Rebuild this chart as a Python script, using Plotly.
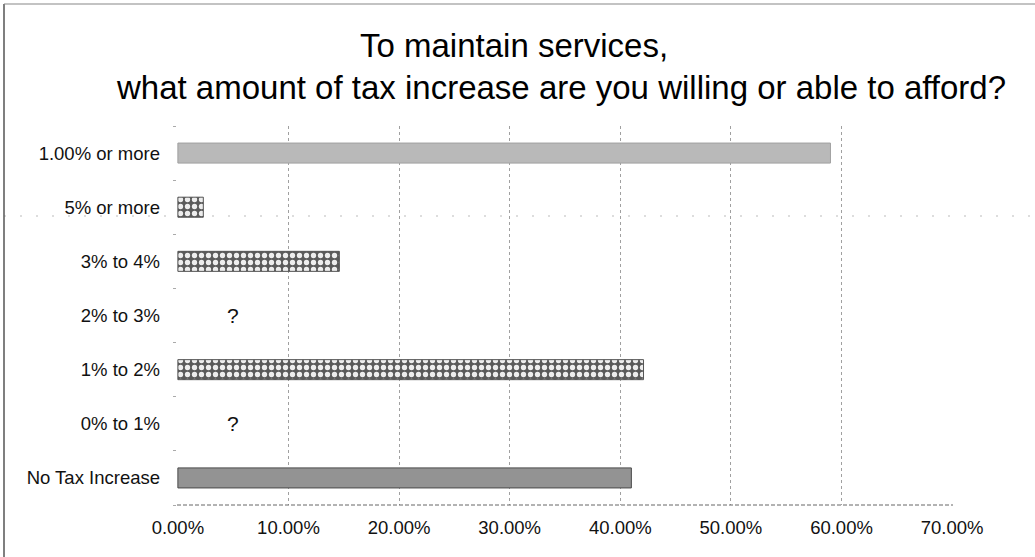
import plotly.graph_objects as go

# ---- data ----
categories = ["1.00% or more", "5% or more", "3% to 4%", "2% to 3%",
              "1% to 2%", "0% to 1%", "No Tax Increase"]
shares = [0.590, 0.023, 0.146, None, 0.421, None, 0.410]
unknown_categories = ["2% to 3%", "0% to 1%"]
unknown_label_x = 0.05
x_ticks = [0.0, 0.1, 0.2, 0.3, 0.4, 0.5, 0.6, 0.7]

title_lines = ["To maintain services,",
               "what amount of tax increase are you willing or able to afford?"]

# ---- styles ----
bar_style = ["light", "check", "check", "check", "check", "check", "dark"]
styles = {
    "light": dict(bg="#b9b9b9", fg="#b9b9b9", shape="", size=3, solid=0.3, line="#a0a0a0"),
    "check": dict(bg="#5a5a5a", fg="#ededed", shape=".", size=7, solid=0.45, line="#555555"),
    "dark":  dict(bg="#939393", fg="#939393", shape="", size=3, solid=0.3, line="#4a4a4a"),
}

W, H = 1035, 557
ML, MR, MT, MB = 177, 82, 126, 52
TITLE_Y_PX = [45, 88]
TITLE_X_PX = [514, 561]

font_family = "Liberation Sans, Arial, sans-serif"

plot_w = W - ML - MR
plot_h = H - MT - MB


def px_to_paper_y(y_px):
    return 1 + (MT - y_px) / plot_h


def px_to_paper_x(x_px):
    return (x_px - ML) / plot_w


fig = go.Figure()
for name, st in styles.items():
    ys = [c for c, s in zip(categories, bar_style) if s == name]
    xs = [v for v, s in zip(shares, bar_style) if s == name]
    fig.add_trace(go.Bar(
        y=ys, x=xs, orientation="h", width=0.37, name=name,
        marker=dict(
            color=st["bg"],
            line=dict(width=1, color=st["line"]),
            pattern=dict(shape=st["shape"], fgcolor=st["fg"], bgcolor=st["bg"],
                         size=st["size"], solidity=st["solid"], fillmode="replace"),
        ),
        hoverinfo="skip",
    ))

for c in unknown_categories:
    fig.add_annotation(x=unknown_label_x, y=c, text="?", showarrow=False,
                       font=dict(size=21, color="#111111", family=font_family))

for line, xpx, ypx in zip(title_lines, TITLE_X_PX, TITLE_Y_PX):
    fig.add_annotation(xref="paper", yref="paper", x=px_to_paper_x(xpx), y=px_to_paper_y(ypx),
                       xanchor="center", yanchor="middle", text=line, showarrow=False,
                       font=dict(size=33, color="#000000", family=font_family))

# bottom axis (dotted), frame lines (left, top), faint scan fold line
fig.add_shape(type="line", xref="paper", yref="paper", x0=0, x1=1, y0=0, y1=0,
              line=dict(color="#666666", width=1, dash="4px,2px"))
bx = px_to_paper_x(4)
by = px_to_paper_y(4)
fig.add_shape(type="line", xref="paper", yref="paper", x0=bx, x1=bx, y0=by, y1=px_to_paper_y(H),
              line=dict(color="#555555", width=1.5))
fig.add_shape(type="line", xref="paper", yref="paper", x0=bx, x1=px_to_paper_x(W), y0=by, y1=by,
              line=dict(color="#888888", width=1.2))
fig.add_shape(type="line", xref="paper", yref="paper", x0=bx, x1=px_to_paper_x(W),
              y0=px_to_paper_y(216), y1=px_to_paper_y(216),
              line=dict(color="#bbbbbb", width=1, dash="2px,14px"), layer="below")

fig.update_layout(
    width=W, height=H,
    margin=dict(l=ML, r=MR, t=MT, b=MB, pad=0),
    paper_bgcolor="white", plot_bgcolor="white",
    showlegend=False, barmode="overlay",
    font=dict(family=font_family, color="#111111"),
)
fig.update_xaxes(
    range=[-0.0008, 0.7008], tickvals=x_ticks, tickformat=".2%",
    showgrid=True, gridcolor="#a0a0a0", griddash="dot", gridwidth=1,
    zeroline=False, showline=False,
    ticks="", tickfont=dict(size=18.5, color="#111111"),
    ticklabelstandoff=9,
)
fig.update_yaxes(
    categoryorder="array", categoryarray=categories[::-1],
    showgrid=False, zeroline=False, showline=False,
    ticks="outside", tickson="boundaries", ticklen=3, tickcolor="#aaaaaa",
    tickfont=dict(size=18.5, color="#111111"),
    ticklabelstandoff=16,
)

fig.write_html("out.html")
